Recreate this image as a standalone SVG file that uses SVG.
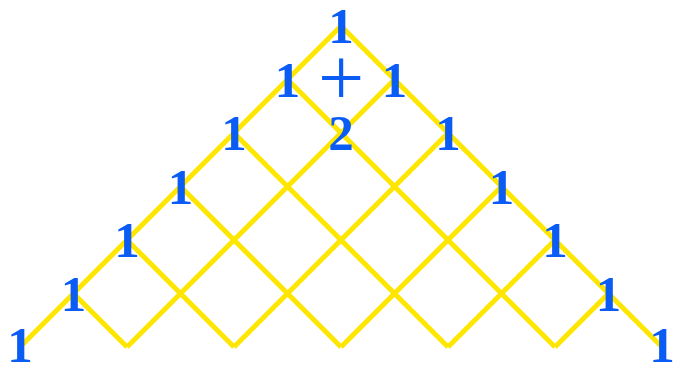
<svg xmlns="http://www.w3.org/2000/svg" width="673" height="367" viewBox="0 0 673 367">
<style>
.ln{stroke:#ffe600;stroke-width:5;fill:none;stroke-linecap:butt}
.n{font-family:"Liberation Serif",serif;font-weight:bold;font-size:51px;fill:#0a5cf5;text-anchor:middle}
.op{font-family:"Liberation Serif",serif;font-weight:normal;font-size:82px;fill:#0a5cf5;text-anchor:middle}
</style>
<rect width="673" height="367" fill="#ffffff"/>
<g id="connectors">
<path class="ln" d="M341,26 L20,347 M341,26 L662,347"/>
<path class="ln" d="M287.5,79.5 L555,347 M234,133 L448,347 M180.5,186.5 L341,347 M127,240 L234,347 M73.5,293.5 L127,347"/>
<path class="ln" d="M394.5,79.5 L127,347 M448,133 L234,347 M501.5,186.5 L341,347 M555,240 L448,347 M608.5,293.5 L555,347"/>
</g>
<g id="n-apex"><text class="n" x="341" y="43">1</text></g>
<g id="n-l1"><text class="n" x="287.5" y="96.5">1</text></g>
<g id="n-l2"><text class="n" x="234" y="150">1</text></g>
<g id="n-l3"><text class="n" x="180.5" y="203.5">1</text></g>
<g id="n-l4"><text class="n" x="127" y="257">1</text></g>
<g id="n-l5"><text class="n" x="73.5" y="310.5">1</text></g>
<g id="n-l6"><text class="n" x="20" y="362">1</text></g>
<g id="n-r1"><text class="n" x="394.5" y="96.5">1</text></g>
<g id="n-r2"><text class="n" x="448" y="150">1</text></g>
<g id="n-r3"><text class="n" x="501.5" y="203.5">1</text></g>
<g id="n-r4"><text class="n" x="555" y="257">1</text></g>
<g id="n-r5"><text class="n" x="608.5" y="310.5">1</text></g>
<g id="n-r6"><text class="n" x="662" y="362">1</text></g>
<g id="n-plus"><text class="op" x="341" y="105">+</text></g>
<g id="n-two"><text class="n" x="341" y="150">2</text></g>
</svg>
